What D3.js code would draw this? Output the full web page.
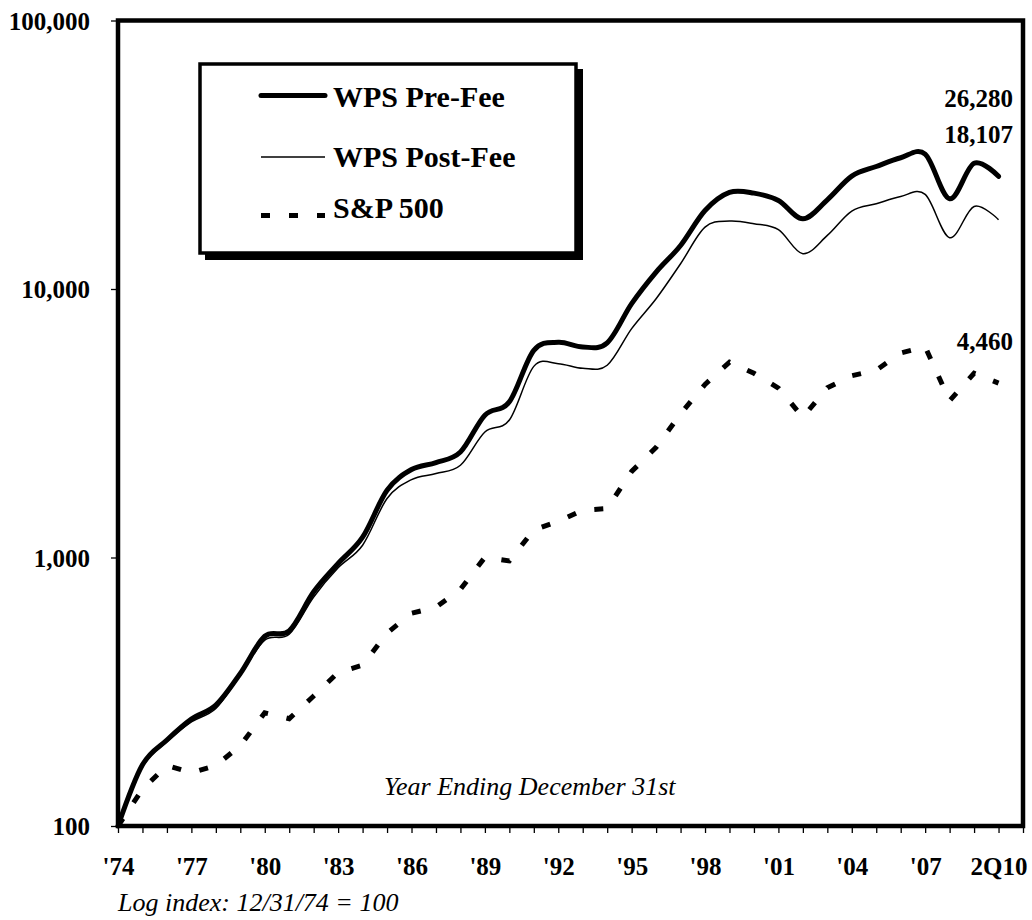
<!DOCTYPE html>
<html>
<head>
<meta charset="utf-8">
<script src="https://cdn.jsdelivr.net/npm/d3@7"></script>
<style>
  html, body { margin: 0; padding: 0; background: #fff; }
  svg { display: block; }
  text { font-family: "Liberation Serif", "Times New Roman", serif; fill: #000; }
</style>
</head>
<body>
<svg id="chart" width="1032" height="920"></svg>
<script>
// ---- data ----
const categories = ["'74","'75","'76","'77","'78","'79","'80","'81","'82","'83","'84","'85","'86","'87","'88","'89","'90","'91","'92","'93","'94","'95","'96","'97","'98","'99","'00","'01","'02","'03","'04","'05","'06","'07","'08","'09","2Q10"];
const xTickLabels = ["'74","'77","'80","'83","'86","'89","'92","'95","'98","'01","'04","'07","2Q10"];
const yTickValues = [100, 1000, 10000, 100000];
const wpsPreFee  = [100,169,209,250,282,370,509,533,745,950,1190,1780,2126,2258,2472,3390,3800,5910,6330,6080,6300,8820,11560,14530,19610,22900,22750,21370,18260,21490,26320,28590,30810,31800,21680,29400,26280];
const wpsPostFee = [100,166,206,244,274,365,492,518,713,915,1111,1658,1950,2054,2206,2935,3250,5150,5270,5065,5200,7120,9200,12420,17000,17900,17500,16630,13530,15830,19500,20770,22110,22500,15530,20300,18107];
const sp500      = [100,137,168,158,168,199,264,251,305,373,397,523,620,653,761,1002,971,1267,1364,1501,1521,2092,2572,3430,4411,5339,4853,4276,3331,4287,4753,4986,5774,6091,3838,4853,4460];
const seriesNames = ["WPS Pre-Fee", "WPS Post-Fee", "S&P 500"];
const endLabels = ["26,280", "18,107", "4,460"];

// ---- layout ----
const FONT = "'Liberation Serif', 'Times New Roman', serif";
const svg = d3.select("#chart");
const L = 118, R = 1023, T = 20.5, B = 826;

const x = d3.scaleLinear().domain([0, categories.length]).range([L, R]);
const y = d3.scaleLog().domain([100, 100000]).range([B, T]);

// axes
const xAxis = d3.axisBottom(x)
  .tickValues(d3.range(0, categories.length + 1))
  .tickSize(7)
  .tickFormat(i => (i < categories.length && xTickLabels.includes(categories[i])) ? categories[i] : "");
const gx = svg.append("g").attr("transform", `translate(0,${B})`).call(xAxis);
gx.select(".domain").remove();
gx.selectAll(".tick line").attr("stroke", "#000").attr("stroke-width", 1.3);
gx.selectAll(".tick text")
  .attr("y", 49).attr("dy", 0)
  .style("font-size", "25px").style("font-weight", "bold")
  .style("font-family", FONT);

const yAxis = d3.axisLeft(y).tickValues(yTickValues).tickSize(7).tickPadding(21).tickFormat(d3.format(","));
const gy = svg.append("g").attr("transform", `translate(${L},0)`).call(yAxis);
gy.select(".domain").remove();
gy.selectAll(".tick line").attr("stroke", "#000").attr("stroke-width", 1.3);
gy.selectAll(".tick text")
  .attr("dy", "0.34em")
  .style("font-size", "25px").style("font-weight", "bold")
  .style("font-family", FONT);

// lines
const smooth = d3.line().x((d, i) => x(i)).y(d => y(d)).curve(d3.curveCardinal.tension(0));
const straight = d3.line().x((d, i) => x(i)).y(d => y(d));

const plot = svg.append("g");
plot.append("path").datum(sp500).attr("d", straight)
  .attr("fill", "none").attr("stroke", "#000").attr("stroke-width", 5)
  .attr("stroke-dasharray", "9,19").attr("stroke-linecap", "butt");
plot.append("path").datum(wpsPostFee).attr("d", smooth)
  .attr("fill", "none").attr("stroke", "#000").attr("stroke-width", 1.5)
  .attr("stroke-linejoin", "round");
plot.append("path").datum(wpsPreFee).attr("d", smooth)
  .attr("fill", "none").attr("stroke", "#000").attr("stroke-width", 5)
  .attr("stroke-linejoin", "round").attr("stroke-linecap", "round");

// frame
svg.append("rect").attr("x", L).attr("y", T).attr("width", R - L).attr("height", B - T)
  .attr("fill", "none").attr("stroke", "#000").attr("stroke-width", 4.5);

// end labels
const endY = [107, 142.5, 350];
endLabels.forEach((t, i) => {
  svg.append("text").attr("x", 1013).attr("y", endY[i]).attr("text-anchor", "end")
    .style("font-family", FONT).style("font-size", "25px").style("font-weight", "bold").text(t);
});

// legend
const lg = svg.append("g");
lg.append("rect").attr("x", 205).attr("y", 69).attr("width", 378).attr("height", 191).attr("fill", "#000");
lg.append("rect").attr("x", 200).attr("y", 64).attr("width", 376).attr("height", 189)
  .attr("fill", "#fff").attr("stroke", "#000").attr("stroke-width", 3.5);
const legendRows = [
  { name: seriesNames[0], ly: 95.5, ty: 106.5, w: 5, dash: null },
  { name: seriesNames[1], ly: 157, ty: 166.5, w: 1.5, dash: null },
  { name: seriesNames[2], ly: 215.5, ty: 218, w: 5, dash: "9,19" }
];
legendRows.forEach(r => {
  const ln = lg.append("line").attr("x1", 261).attr("x2", 325).attr("y1", r.ly).attr("y2", r.ly)
    .attr("stroke", "#000").attr("stroke-width", r.w);
  if (r.dash) ln.attr("stroke-dasharray", r.dash);
  else if (r.w > 2) ln.attr("stroke-linecap", "round");
  lg.append("text").attr("x", 333).attr("y", r.ty)
    .style("font-family", FONT).style("font-size", "30px").style("font-weight", "bold").text(r.name);
});

// notes
svg.append("text").attr("x", 384).attr("y", 795)
  .style("font-family", FONT).style("font-size", "26px").style("font-style", "italic").text("Year Ending December 31st");
svg.append("text").attr("x", 118).attr("y", 911)
  .style("font-family", FONT).style("font-size", "26px").style("font-style", "italic").text("Log index: 12/31/74 = 100");
</script>
</body>
</html>
